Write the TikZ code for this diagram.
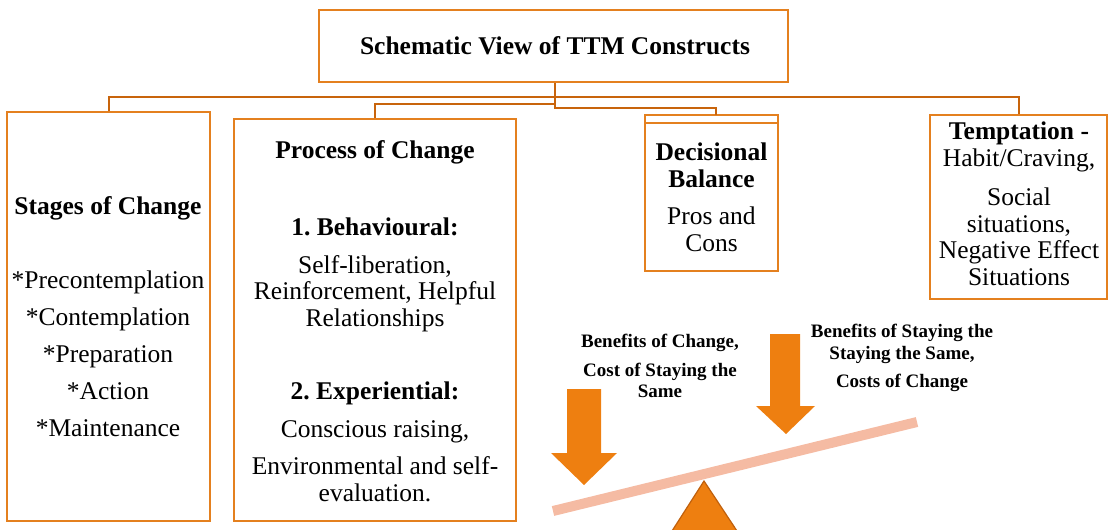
\documentclass[tikz,border=0pt]{standalone}
\usepackage{fontspec}
\setmainfont{Liberation Serif}
\definecolor{boxc}{HTML}{E4801F}
\definecolor{connc}{HTML}{C8640C}
\definecolor{arrc}{HTML}{EE7F10}
\definecolor{beamc}{HTML}{F5BBA3}
\definecolor{fulc}{HTML}{C0600C}
\tikzset{
  box/.style={draw=boxc, line width=2pt, inner sep=0pt},
  conn/.style={draw=connc, line width=2pt},
  txt/.style={align=center, inner sep=0pt, anchor=north, font=\fontsize{25.5}{26.5}\selectfont},
  small/.style={align=center, inner sep=0pt, anchor=north, font=\fontsize{19}{21.5}\selectfont\bfseries},
  bigarrow/.style={fill=arrc, draw=none},
}
\begin{document}
\begin{tikzpicture}[x=1pt,y=-1pt]
\useasboundingbox (0,0) rectangle (1109,530);
% boxes
\node[box, minimum width=469pt, minimum height=72pt] (title) at (553.5,46) {};
\node[font=\fontsize{25.5}{26.5}\selectfont\bfseries, inner sep=0pt] (titletext) at (555,46) {Schematic View of TTM Constructs};
\node[box, minimum width=203pt, minimum height=409pt] (stages) at (108.5,316.5) {};
\node[box, minimum width=282pt, minimum height=402pt] (proc) at (375,320) {};
\node[box, minimum width=133pt, minimum height=156pt] (dec) at (711.5,193) {};
\node[box, minimum width=177pt, minimum height=184pt] (tempt) at (1018.5,207) {};
\draw[draw=boxc, line width=2pt] (dec.west |- 0,123) -- (dec.east |- 0,123);
% connectors
\coordinate (bus) at (555,97);
\coordinate (j1) at (555,108);
\coordinate (j2) at (555,104);
\coordinate (decin) at (716,115);
\draw[conn] (stages.north) |- (bus) -| (tempt.north);
\draw[conn] (title.south -| j1) -- (j1) -| (decin);
\draw[conn] (j2) -| (proc.north);
% texts
\node[txt, font=\fontsize{25.5}{37}\selectfont] (stagestext) at (108,196)
 {\textbf{Stages of Change}\\[37pt]{*}Precontemplation\\{*}Contemplation\\{*}Preparation\\{*}Action\\{*}Maintenance};
\node[txt] (proctext) at (375,140)
 {\textbf{Process of Change}\\[51pt]\textbf{1.\ Behavioural:}\\[11pt]Self-liberation,\\Reinforcement, Helpful\\Relationships\\[47pt]\textbf{2.\ Experiential:}\\[11pt]Conscious raising,\\[11pt]Environmental and self-\\evaluation.};
\node[txt] (dectext) at (711.5,143)
 {\textbf{Decisional}\\\textbf{Balance}\\[11pt]Pros and\\Cons};
\node[txt] (tempttext) at (1019,122)
 {\textbf{Temptation -}\\Habit/Craving,\\[13pt]Social\\situations,\\Negative Effect\\Situations};
% balance
\draw[beamc, line width=10pt] (553,511) coordinate (beamL) -- (917,422) coordinate (beamR);
\filldraw[fill=arrc, draw=fulc, line width=1.2pt] (704,481) coordinate (apex) -- (737,531) -- (672,531) -- cycle;
\fill[arrc] (567,389) -- (601,389) -- (601,453) -- (617,453) -- (584,485) -- (551,453) -- (567,453) -- cycle;
\fill[arrc] (770,334) -- (800,334) -- (800,406) -- (815,406) -- (786,434) -- (756,406) -- (770,406) -- cycle;
\node[small] (lefttext) at (660,334)
 {Benefits of Change,\\[7pt]Cost of Staying the\\Same};
\node[small] (righttext) at (902,324)
 {Benefits of Staying the\\Staying the Same,\\[7pt]Costs of Change};
\end{tikzpicture}
\end{document}
